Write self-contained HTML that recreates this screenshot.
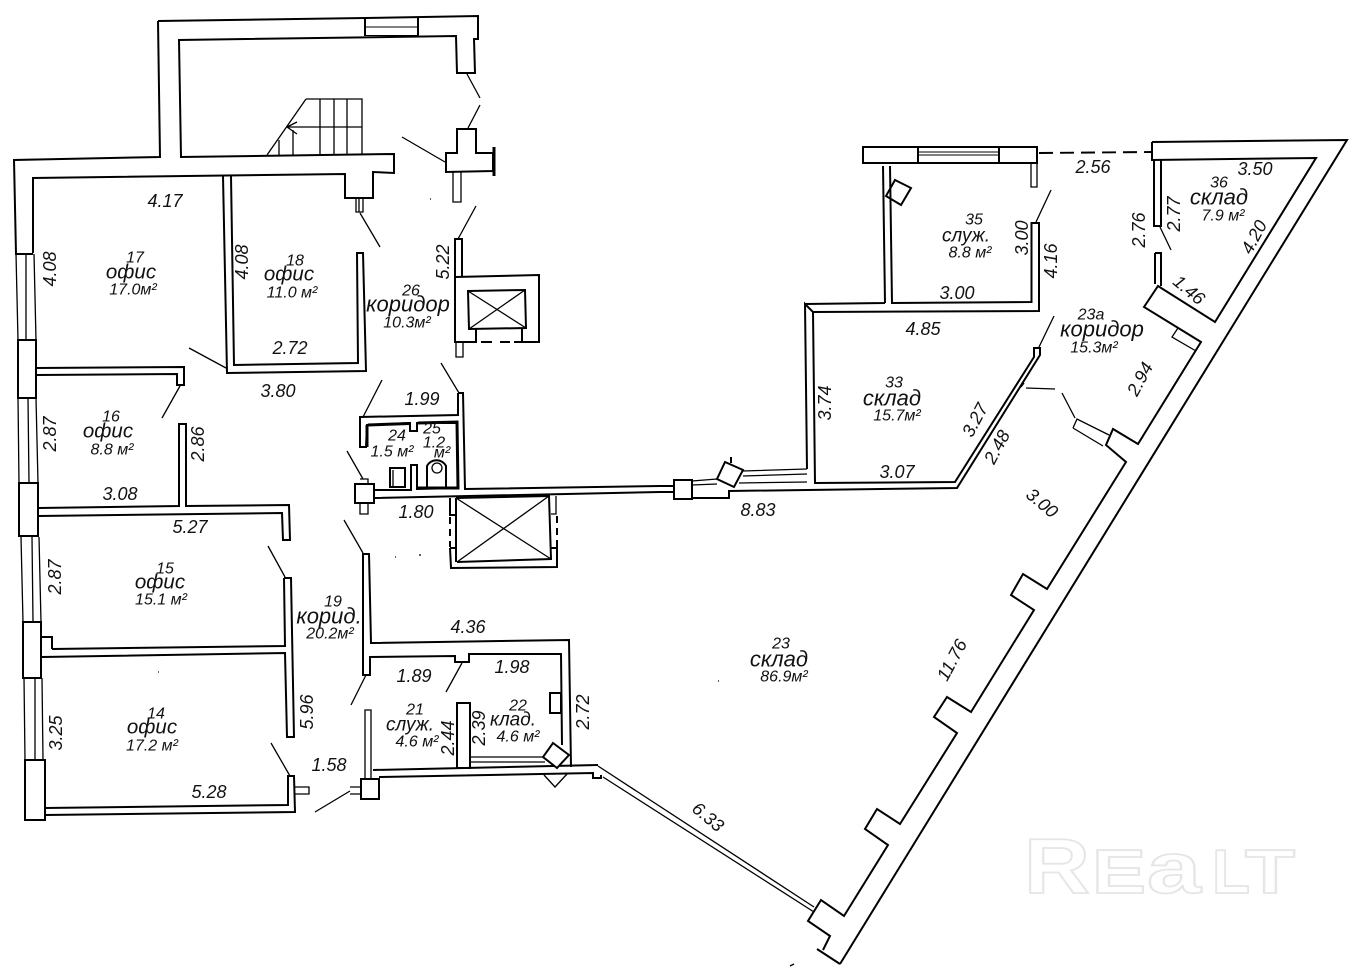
<!DOCTYPE html>
<html><head><meta charset="utf-8"><title>План</title>
<style>
html,body{margin:0;padding:0;background:#fff}
svg{display:block}
text{font-family:"Liberation Sans","DejaVu Sans",sans-serif;font-style:italic;text-anchor:middle;dominant-baseline:central;fill:#111}
.d{font-size:18px}
.n{font-size:16px}
.l{font-size:22px}
.o{font-size:20.500px}
.s{font-size:19px}
.a{font-size:16px}
.w{fill:none;stroke:#000;stroke-width:2}
.t{fill:none;stroke:#000;stroke-width:1.3}
.f{fill:none;stroke:#000;stroke-width:1}
.b{fill:none;stroke:#000;stroke-width:3}
.logo{font-family:"Liberation Sans",sans-serif;font-style:normal;font-weight:bold;fill:#fff;stroke:#e6e6e6;stroke-width:1.8;text-anchor:start;dominant-baseline:auto}
</style></head><body>
<svg width="1366" height="968" viewBox="0 0 1366 968" xmlns="http://www.w3.org/2000/svg">
<rect width="1366" height="968" fill="#fff"/>
<!-- top room outer wall -->
<path class="w" d="M158 21L365 18L478 16V39H474L475 73H457L456 36L179 40L181 157L394 154V173L373 172V198H345V174L33 178L33 253M158 21L160 157L14 160L16 254H33"/>
<path class="w" d="M418 17V36M365 18V36"/>
<path class="f" d="M366 27H418M366 35.500H418"/>
<!-- stairs -->
<path class="t" d="M306 99H362V155M306 99L267 155M320 99V155M334 99V155M347 99V155M287 127H362M279 140V155M293 130V155M297 122L287 127L297 134"/>
<!-- top door lines and pillar -->
<path class="t" d="M467 74L480 98M480 105L468 128M402 137L445 162M476 206L458 239M360 213L380 247M189 348L226 368M441 363L459 393M382 380L363 417M180 386L162 418"/>
<path class="w" d="M446 153H457V129H476V153H493V171L446 172Z"/>
<path class="b" d="M494 147V176"/>
<path class="t" d="M453 172V202H461V172M356 199V212H363V199M359 199V212"/>
<!-- left windows and piers -->
<path class="w" d="M18 340H36V398H18ZM19 483H38V536H19ZM23 622H41V678H23ZM25 760H45V820H25Z"/>
<path class="t" d="M16 254L18 340M26 254V340M34 254L36 340M18 398L19 483M28 398L29 483M36 398L38 483M21 537L23 622M32 537L33 622M39 537L41 622M24 678L25 760M35 678V760M42 678L43 760"/>
<!-- room 17/18 walls -->
<path class="w" d="M223 176L227 373L366 371L363 253H357L358 363L234 365L231 176"/>
<path class="w" d="M37 368L184 367V385H177V374L37 375"/>
<!-- 16/15 wall -->
<path class="w" d="M39 508L179 506V424H186V506L289 505L290 540H283L282 513L39 516"/>
<!-- 15/14 wall -->
<path class="w" d="M284 578H291L294 737H287L285 653L42 657M284 578L285 646L52 649M41 637H52V649"/>
<!-- room14 bottom -->
<path class="w" d="M45 808L288 805V776H294L295 812L45 815"/>
<path class="t" d="M268 546L285 577M271 743L290 776M295 787H309V794H295M315 812L350 791"/>
<!-- box lower -->
<path class="w" d="M361 779H379V799H361Z" style="fill:#fff"/>
<path class="t" d="M350 787H361V794H350M365 710H371V779H365Z"/>
<!-- corridor wall / rooms 21,22 -->
<path class="w" d="M362 554H369L371 643L569 640L571 767M363 554L363 675H370V657L455 656V662H469V654L561 654L562 745"/>
<path class="w" d="M550 693H561V713H550Z"/>
<path class="t" d="M366 675L351 705M462 663L446 692M344 520L363 553"/>
<path class="w" d="M457 703H470V768H457Z"/>
<path class="w" d="M373 770L598 765M379 777L593 773V778H601V775"/>
<path class="t" d="M471 757H545M471 762H545"/>
<path class="w" d="M553 743L569 755L557 768L543 757Z" style="fill:#fff"/>
<path class="t" d="M544 775L555 787L567 774"/>
<!-- elevator 1 -->
<path class="w" d="M454 239H462V277M455 239V342H476V329M455 277L539 275V342H514M522 342V329"/>
<path class="w" d="M468 291L525 290L526 328L469 329Z"/>
<path class="t" d="M468 291L526 328M525 290L469 329"/>
<path class="w" stroke-dasharray="11 8" d="M481 342H510"/>
<path class="t" d="M456 342V357H463V342"/>
<!-- WC block -->
<path class="w" d="M459 393H463L465 489L660 486H674M458 393V415L360 417V447H366L367 425L410 423V431H417V423L458 423M423 423L457 422L458 488L417 489V465H411V490H375M375 498L660 492H674"/>
<path class="b" d="M368 425L410 423.500M367 425V447M418 423L457 422L458 488H418"/>
<path class="w" d="M355 484H374V503H355Z"/>
<path class="t" d="M360 479H368V484M360 503V514H368V503M347 451L363 479"/>
<path class="w" d="M390 468H405V487H390Z"/>
<path class="t" d="M393 470V486"/>
<path class="w" d="M427 487V466A10.500 10 0 0 1 446 466V487"/>
<circle class="t" cx="437" cy="468" r="5"/>
<!-- elevator 2 -->
<path class="w" d="M450 498V515H456M456 498V562M450 548H456M450 548L451 568L557 567V548H551"/>
<path class="t" d="M556 496V514H551"/>
<path class="w" d="M456 498L549 496L551 559L457 562"/>
<path class="t" d="M456 498L551 559M549 496L457 562"/>
<path class="w" stroke-dasharray="7 5" d="M450 517V547M557 516V547"/>
<!-- mid section to room33 -->
<path class="w" d="M674 480H692V499H674Z"/>
<path class="t" d="M692 485L717 484M692 481L717 479"/>
<path class="w" d="M692 498H729V491L957 488L1040 355V348H1034V357L955 482L815 483L813 312L1039 311V223H1031.500V302L892 303L890 166M885 303L883 166M813 312L805 304L807 469M805 304L885 303"/>
<path class="t" d="M743 471L807 469M743 476L807 474M739 483L807 482"/>
<path class="w" d="M725 462L743 470L734 487L717 479Z" style="fill:#fff"/>
<path class="w" d="M731 457V463"/>
<!-- room 35 top -->
<path class="w" d="M863 147H1037V163H863ZM918 147V163M999 147V163"/>
<path class="f" d="M918 155H999M918 152H999"/>
<path class="t" d="M1031 163V187H1037V163M1051 190L1036 222M1039 347L1054 316M1026 388L1055 389M1062 393L1075 418M1160 227L1171 250"/>
<path class="w" d="M895 180L911 188L901 205L886 196Z"/>
<!-- dashed -->
<path class="w" stroke-dasharray="14 7" d="M1039 153L1151 152"/>
<!-- room 36 + outer diagonal -->
<path class="w" d="M1152 142L1347 140L840 964M1152 142V160L1316 158L1215 322L1158 286L1144 307L1201 342L1138 444L1113 429L1106 445L1126 462L1047 589L1023 574L1011 595L1034 610L971 712L947 697L934 717L957 733L900 824L877 809L865 829L888 845L844 916L821 900L808 921L830 936L823 950M817 949L840 964"/>
<path class="w" d="M1154 160V226H1161V160M1155 253H1161V286M1155 253V284"/>
<path class="t" d="M1178 328L1172 337L1196 351M1073 428L1077 419L1109 435M1073 428L1103 446"/>
<path class="t" d="M598 766L814 907M603 777L814 912"/>
<!-- specks -->
<path class="t" d="M718 681h1M790 966l4-2M430 199h1M1021 387l3-4M395 557h1M419 555h2M158 672h1"/>
<!-- dimension text -->
<text class="d" x="165" y="201">4.17</text>
<text class="d" transform="translate(50 269) rotate(-90)">4.08</text>
<text class="d" transform="translate(242 262) rotate(-90)">4.08</text>
<text class="d" x="290" y="348">2.72</text>
<text class="d" x="278" y="391">3.80</text>
<text class="d" transform="translate(443 262) rotate(-90)">5.22</text>
<text class="d" x="422" y="399">1.99</text>
<text class="d" transform="translate(50 434) rotate(-90)">2.87</text>
<text class="d" transform="translate(198 444) rotate(-90)">2.86</text>
<text class="d" x="120" y="494">3.08</text>
<text class="d" x="190" y="527">5.27</text>
<text class="d" transform="translate(55 577) rotate(-90)">2.87</text>
<text class="d" transform="translate(56 733) rotate(-90)">3.25</text>
<text class="d" transform="translate(307 712) rotate(-90)">5.96</text>
<text class="d" x="209" y="792">5.28</text>
<text class="d" x="329" y="765">1.58</text>
<text class="d" x="416" y="512">1.80</text>
<text class="d" x="468" y="627">4.36</text>
<text class="d" x="414" y="676">1.89</text>
<text class="d" x="512" y="667">1.98</text>
<text class="d" transform="translate(448 738) rotate(-90)">2.44</text>
<text class="d" transform="translate(479 728) rotate(-90)">2.39</text>
<text class="d" transform="translate(583 712) rotate(-90)">2.72</text>
<text class="d" x="758" y="510">8.83</text>
<text class="d" x="1093" y="167">2.56</text>
<text class="d" x="1255" y="169">3.50</text>
<text class="d" transform="translate(1174 214) rotate(-90)">2.77</text>
<text class="d" transform="translate(1139 230) rotate(-90)">2.76</text>
<text class="d" transform="translate(1254 237) rotate(-62)">4.20</text>
<text class="d" transform="translate(1189 290) rotate(40)">1.46</text>
<text class="d" transform="translate(1022 238) rotate(-90)">3.00</text>
<text class="d" transform="translate(1051 261) rotate(-90)">4.16</text>
<text class="d" x="957" y="293">3.00</text>
<text class="d" x="923" y="329">4.85</text>
<text class="d" transform="translate(1140 379) rotate(-62)">2.94</text>
<text class="d" transform="translate(825 403) rotate(-90)">3.74</text>
<text class="d" transform="translate(975 420) rotate(-62)">3.27</text>
<text class="d" transform="translate(997 447) rotate(-62)">2.48</text>
<text class="d" x="897" y="472">3.07</text>
<text class="d" transform="translate(1042 503) rotate(40)">3.00</text>
<text class="d" transform="translate(952 660) rotate(-62)">11.76</text>
<text class="d" transform="translate(708 817) rotate(40)">6.33</text>
<!-- room labels -->
<text class="n" x="135" y="258">17</text><text class="o" x="131" y="272">офис</text><text class="a" x="133" y="290">17.0м²</text>
<text class="n" x="295" y="261">18</text><text class="o" x="289" y="274">офис</text><text class="a" x="292" y="293">11.0 м²</text>
<text class="n" x="411" y="291">26</text><text class="l" x="408" y="304">коридор</text><text class="a" x="407" y="323">10.3м²</text>
<text class="n" x="111" y="417">16</text><text class="o" x="108" y="431">офис</text><text class="a" x="112" y="450">8.8 м²</text>
<text class="n" x="165" y="569">15</text><text class="o" x="160" y="582">офис</text><text class="a" x="161" y="600">15.1 м²</text>
<text class="n" x="333" y="602">19</text><text class="l" x="329" y="616">корид.</text><text class="a" x="330" y="634">20.2м²</text>
<text class="n" x="156" y="714">14</text><text class="o" x="152" y="727">офис</text><text class="a" x="152" y="746">17.2 м²</text>
<text class="n" x="397" y="436">24</text><text class="a" x="392" y="452">1.5 м²</text>
<text class="n" x="432" y="429">25</text><text class="a" x="434" y="443">1.2</text><text class="a" x="442" y="453">м²</text>
<text class="n" x="415" y="710">21</text><text class="s" x="410" y="725">служ.</text><text class="a" x="417" y="742">4.6 м²</text>
<text class="n" x="518" y="706">22</text><text class="s" x="513" y="720">клад.</text><text class="a" x="518" y="737">4.6 м²</text>
<text class="n" x="1219" y="183">36</text><text class="l" x="1219" y="197">склад</text><text class="a" x="1223" y="216">7.9 м²</text>
<text class="n" x="974" y="220">35</text><text class="s" x="966" y="236">служ.</text><text class="a" x="970" y="253">8.8 м²</text>
<text class="n" x="1091" y="315">23а</text><text class="l" x="1102" y="329">коридор</text><text class="a" x="1094" y="348">15.3м²</text>
<text class="n" x="894" y="383">33</text><text class="l" x="892" y="398">склад</text><text class="a" x="897" y="416">15.7м²</text>
<text class="n" x="781" y="644">23</text><text class="l" x="779" y="659">склад</text><text class="a" x="784" y="677">86.9м²</text>
<!-- watermark -->
<text class="logo" x="1024" y="893" font-size="78" textLength="66" lengthAdjust="spacingAndGlyphs">R</text>
<text class="logo" x="1092" y="893" font-size="62" textLength="54" lengthAdjust="spacingAndGlyphs">E</text>
<text class="logo" x="1147" y="893" font-size="72" textLength="54" lengthAdjust="spacingAndGlyphs">a</text>
<text class="logo" x="1212" y="893" font-size="62" textLength="38" lengthAdjust="spacingAndGlyphs">L</text>
<text class="logo" x="1245" y="893" font-size="62" textLength="50" lengthAdjust="spacingAndGlyphs">T</text>
</svg>
</body></html>
